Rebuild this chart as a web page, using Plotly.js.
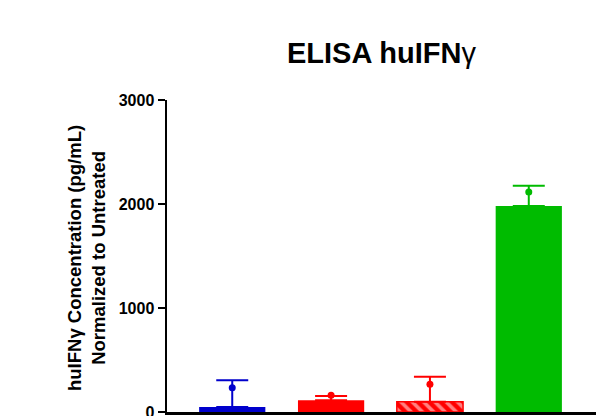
<!DOCTYPE html>
<html>
<head>
<meta charset="utf-8">
<script src="https://cdn.plot.ly/plotly-3.0.1.min.js"></script>
<style>html,body{margin:0;padding:0;background:#fff;}#chart{width:611px;height:416px;}</style>
</head>
<body>
<div id="chart"></div>
<script>
const categories = ["Group 1", "Group 2", "Group 3", "Group 4"];
const means = [48, 113, 99, 1980];
const errorsUp = [257, 42, 239, 196];
const points = [234, 161, 267, 2115];
const colors = ["#0000CC", "#FF0000", "#FF0000", "#00BB00"];
const hatched = [false, false, true, false];
const yTicks = [0, 1000, 2000, 3000];

const xIdx = categories.map((c, i) => i);

const barTraces = xIdx.map(i => ({
  type: "bar",
  x: [xIdx[i]],
  y: [means[i]],
  width: 0.67,
  marker: hatched[i] ? {
    color: colors[i],
    line: {color: colors[i], width: 1.5},
    pattern: {shape: "\\", fgcolor: "#FFFFFF", bgcolor: colors[i], size: 8, solidity: 0.45, fillmode: "overlay"}
  } : {
    color: colors[i],
    line: {width: 0}
  },
  error_y: {type: "data", symmetric: false, array: [errorsUp[i]], arrayminus: [0], width: 16, thickness: 2, color: colors[i]},
  hoverinfo: "skip",
  showlegend: false
}));

const dots = {
  type: "scatter",
  mode: "markers",
  x: xIdx,
  y: points,
  marker: {size: 7, color: colors},
  showlegend: false,
  hoverinfo: "skip"
};

const layout = {
  width: 611,
  height: 416,
  barmode: "overlay",
  margin: {l: 167, r: 15, t: 100, b: 4},
  paper_bgcolor: "#fff",
  plot_bgcolor: "#fff",
  font: {family: "Arial, Liberation Sans, sans-serif", color: "#000"},
  title: {
    text: "<b>ELISA huIFN</b>γ",
    font: {size: 29, family: "Arial, Liberation Sans, sans-serif", color: "#000"},
    x: 0.5, xref: "paper", xanchor: "center",
    y: 1 - 53 / 416, yref: "container", yanchor: "middle"
  },
  xaxis: {
    range: [-0.66, 3.68],
    showticklabels: false,
    ticks: "",
    showgrid: false,
    zeroline: false,
    showline: true,
    linecolor: "#000",
    linewidth: 2.5,
    fixedrange: true
  },
  yaxis: {
    range: [0, 3000],
    tickvals: yTicks,
    ticktext: yTicks.map(String),
    ticks: "outside",
    ticklen: 7,
    tickwidth: 2,
    tickcolor: "#000",
    ticklabeloverflow: "allow",
    tickfont: {size: 16, family: "Arial, Liberation Sans, sans-serif", weight: "bold", color: "#000"},
    showgrid: false,
    zeroline: false,
    showline: true,
    linecolor: "#000",
    linewidth: 2.5,
    fixedrange: true
  },
  annotations: [{
    text: "<b>huIFNγ Concentration (pg/mL)</b><br><b>Normalized to Untreated</b>",
    xref: "paper", yref: "paper",
    x: (86 - 167) / 429, y: (412 - 258) / 312,
    xanchor: "center", yanchor: "middle",
    textangle: -90,
    showarrow: false,
    font: {size: 18.5, family: "Arial, Liberation Sans, sans-serif", color: "#000"}
  }]
};

Plotly.newPlot("chart", [...barTraces, dots], layout, {displayModeBar: false, staticPlot: true});
</script>
</body>
</html>
